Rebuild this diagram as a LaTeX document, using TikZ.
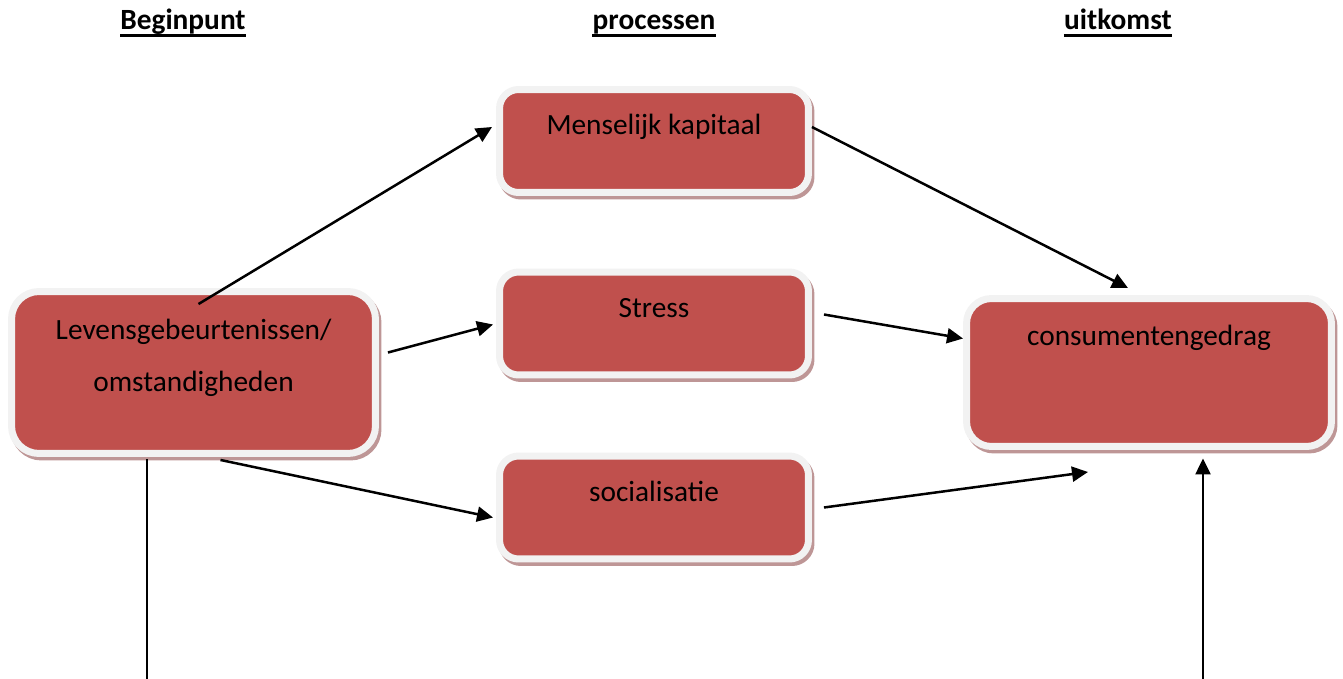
\documentclass[tikz,border=0pt]{standalone}
\usepackage{fontspec}
\setmainfont{Carlito}
\usepackage{tikz}
\usetikzlibrary{
    arrows.meta,
    shadows,
    positioning
}
\definecolor{blokrood}{RGB}{192,80,77}
\definecolor{kader}{RGB}{242,242,242}
\definecolor{schaduw}{RGB}{190,150,150}

\begin{document}
\begin{tikzpicture}[x=0.02cm, y=-0.02cm,
    blok/.style={draw=kader, line width=0.14cm, fill=blokrood, inner sep=0pt,
        drop shadow={shadow xshift=0.05cm, shadow yshift=-0.07cm, fill=schaduw,
            draw=schaduw, line width=0.14cm, opacity=1},
        font=\fontsize{16.7}{30}\selectfont},
    proces/.style={blok, minimum width=6.18cm, rounded corners=0.38cm,
        text height=0.9cm, text depth=1.16cm},
    kop/.style={font=\fontsize{16.7}{19}\selectfont\bfseries, inner sep=0pt, anchor=base},
    pijl/.style={-{Triangle[length=0.32cm, width=0.3cm]}, line width=0.05cm},
    lijn/.style={line width=0.05cm}]
    \useasboundingbox (0,0) rectangle (1343,679);
                            \node[kop] (begin) at (183,30) {Beginpunt};
                            \node[kop] (proc) at (654,30) {processen};
                            \node[kop] (uit) at (1118,30) {uitkomst};
                            \draw[line width=0.06cm]
                            ([yshift=-0.12cm]begin.base west) -- ([yshift=-0.12cm]begin.base east)
                            ([yshift=-0.12cm]proc.base west) -- ([yshift=-0.12cm]proc.base east)
                            ([yshift=-0.12cm]uit.base west) -- ([yshift=-0.12cm]uit.base east);
                            \node[blok, rounded corners=0.55cm, minimum width=7.28cm,
                                text width=7cm, align=center, text height=0.95cm, text depth=2.29cm]
                                (lev) at (193.5,372.5) {Levensgebeurtenissen/\\omstandigheden};
                            \node[proces] (kap) at (654,141) {Menselijk kapitaal};
                            \node[proces] (stress) at (654,323.5) {Stress};
                            \node[proces] (soc) at (654,507.5) {socialisatie};
                            \node[blok, rounded corners=0.5cm, minimum width=7.3cm,
                                text height=0.93cm, text depth=2.03cm]
                                (ged) at (1149,372.5) {consumentengedrag};
                            \coordinate (levonder) at (147,679);
                            \coordinate (gedonder) at (1203,679);
                            \draw
                            ([shift={(5,16)}]lev.north) edge[pijl] ([shift={(-4,-14)}]kap.west)
                            ([shift={(9,-20)}]lev.east) edge[pijl] ([shift={(-3,1)}]stress.west)
                            ([shift={(27,3)}]lev.south) edge[pijl] ([shift={(-3,10)}]soc.west)
                            ([shift={(0,-14)}]kap.east) edge[pijl] ([shift={(-21,-7)}]ged.north)
                            ([shift={(12,-9)}]stress.east) edge[pijl] ([shift={(0,-34)}]ged.west)
                            ([shift={(12,0)}]soc.east) edge[pijl] ([shift={(-61,22)}]ged.south)
                            ([shift={(-46.5,2)}]lev.south) edge[lijn] (levonder)
                            (gedonder) edge[pijl] ([shift={(54,8.5)}]ged.south);
                        \end{tikzpicture}
\end{document}
